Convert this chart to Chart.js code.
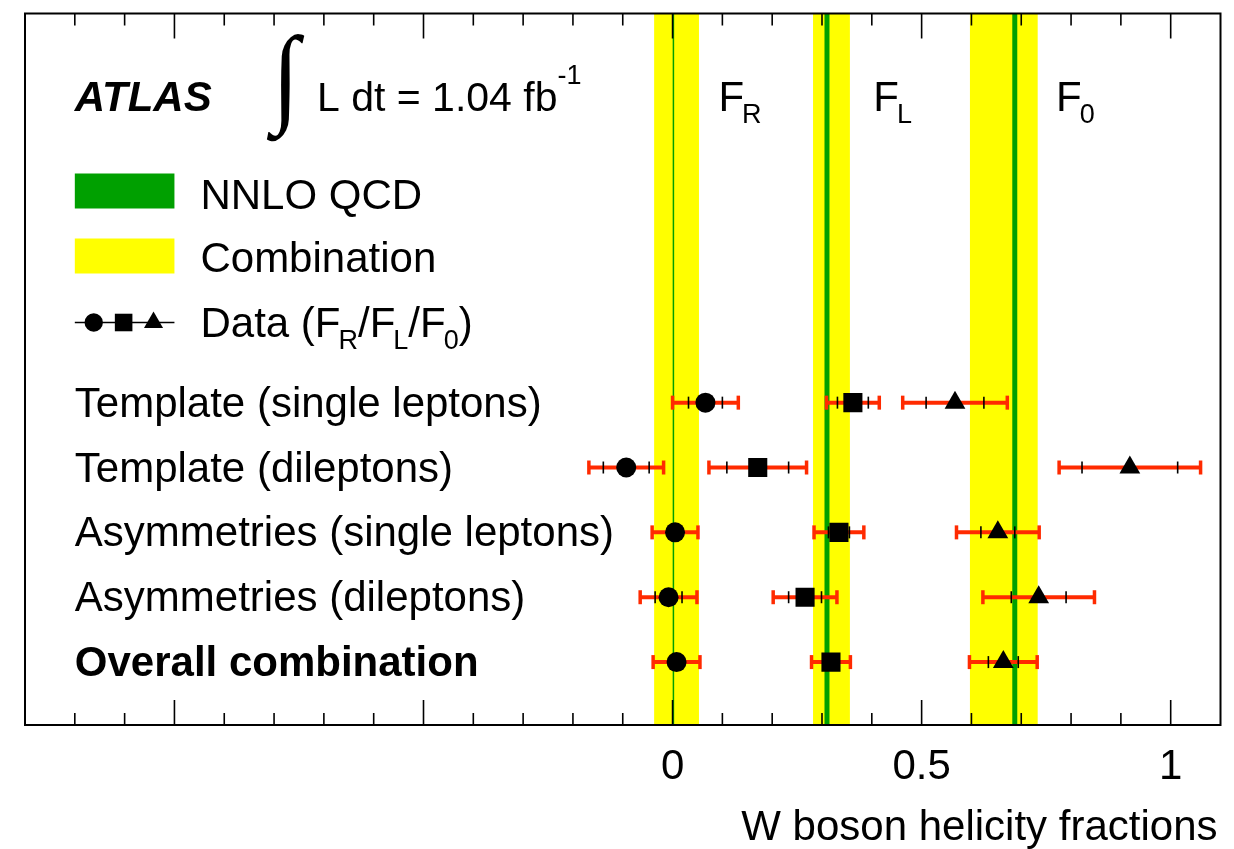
<!DOCTYPE html>
<html>
<head>
<meta charset="utf-8">
<script src="https://cdn.jsdelivr.net/npm/chart.js@4.4.0/dist/chart.umd.min.js"></script>
<style>
  html, body { margin: 0; padding: 0; background: #fff; }
  #wrap { width: 1234px; height: 849px; }
</style>
</head>
<body>
<div id="wrap"><canvas id="c"></canvas></div>
<script>
const FONT = '"Liberation Sans", Arial, sans-serif'
const RED = '#ff2a00'
const YELLOW = '#ffff00'
const GREEN = '#00a000'

// rows, top to bottom
const rows = ['Template (single leptons)', 'Template (dileptons)', 'Asymmetries (single leptons)', 'Asymmetries (dileptons)', 'Overall combination']
const rowPos = [5, 4, 3, 2, 1]

// measurements: value, stat error, total error
const fR = [0.066, -0.093, 0.005, -0.008, 0.008]
const fRStat = [0.034, 0.046, 0.010, 0.027, 0.010]
const fRTot = [0.066, 0.075, 0.046, 0.057, 0.047]

const fL = [0.362, 0.171, 0.334, 0.266, 0.318]
const fLStat = [0.031, 0.062, 0.021, 0.033, 0.015]
const fLTot = [0.053, 0.098, 0.050, 0.064, 0.039]

const f0 = [0.567, 0.918, 0.653, 0.735, 0.664]
const f0Stat = [0.058, 0.096, 0.034, 0.055, 0.030]
const f0Tot = [0.105, 0.142, 0.083, 0.112, 0.068]

// combination band (F_R, F_L, F_0)
const comboVal = [0.008, 0.319, 0.665]
const comboErr = [0.045, 0.037, 0.068]

// NNLO QCD prediction (F_R, F_L, F_0)
const nnloVal = [0.0017, 0.310, 0.687]
const nnloErr = [0.0015, 0.005, 0.005]

// band name labels
const bandNames = ['R', 'L', '0']
const bandLabelX = [0.092, 0.403, 0.770]

// x axis
const tickValues = [0, 0.5, 1]
const tickLabels = ['0', '0.5', '1']
const majorTicks = [-1, -0.5, 0, 0.5, 1]
const minorTicks = [-1.2, -1.1, -0.9, -0.8, -0.7, -0.6, -0.4, -0.3, -0.2, -0.1, 0.1, 0.2, 0.3, 0.4, 0.6, 0.7, 0.8, 0.9]

const families = [
  { val: fR, stat: fRStat, tot: fRTot, style: 'circle', r: 10 },
  { val: fL, stat: fLStat, tot: fLTot, style: 'rect', r: 13.5 },
  { val: f0, stat: f0Stat, tot: f0Tot, style: 'triangle', r: 12 }
]

const line = (ctx, x1, y1, x2, y2) => {
  ctx.beginPath()
  ctx.moveTo(x1, y1)
  ctx.lineTo(x2, y2)
  ctx.stroke()
}

const txt = (ctx, s, x, y, font, align) => {
  ctx.font = font
  ctx.textAlign = align || 'left'
  ctx.fillText(s, x, y)
  return ctx.measureText(s).width
}

// parts starting with '_' are subscripts
const rich = (ctx, parts, x, y) => {
  let cx = x
  parts.forEach(p => {
    if (p[0] === '_') {
      cx += txt(ctx, p.slice(1), cx - 2, y + 12, `27px ${FONT}`) - 2
    } else {
      cx += txt(ctx, p, cx, y, `42px ${FONT}`)
    }
  })
}

const decor = {
  id: 'decor',
  beforeDatasetsDraw(chart) {
    const { ctx, chartArea: a, scales: { x, y } } = chart
    ctx.save()

    ctx.fillStyle = YELLOW
    comboVal.forEach((v, i) => {
      const l = x.getPixelForValue(v - comboErr[i])
      const r = x.getPixelForValue(v + comboErr[i])
      ctx.fillRect(l, a.top, r - l, a.bottom - a.top)
    })

    ctx.fillStyle = GREEN
    nnloVal.forEach((v, i) => {
      const l = x.getPixelForValue(v - nnloErr[i])
      const r = x.getPixelForValue(v + nnloErr[i])
      ctx.fillRect(l, a.top, r - l, a.bottom - a.top)
    })

    // frame and inner ticks
    ctx.strokeStyle = '#000'
    ctx.lineWidth = 2
    ctx.strokeRect(a.left, a.top, a.right - a.left, a.bottom - a.top)
    ctx.lineWidth = 1.6
    const tick = (v, len) => {
      const X = x.getPixelForValue(v)
      line(ctx, X, a.bottom, X, a.bottom - len)
      line(ctx, X, a.top, X, a.top + len)
    }
    majorTicks.forEach(v => tick(v, 25))
    minorTicks.forEach(v => tick(v, 12))

    // error bars
    families.forEach(f => {
      f.val.forEach((v, i) => {
        const Y = y.getPixelForValue(rowPos[i])
        const l = x.getPixelForValue(v - f.tot[i])
        const r = x.getPixelForValue(v + f.tot[i])
        ctx.strokeStyle = RED
        ctx.lineWidth = 4
        line(ctx, l, Y, r, Y)
        ctx.lineWidth = 3.5
        line(ctx, l, Y - 7, l, Y + 7)
        line(ctx, r, Y - 7, r, Y + 7)
        ctx.strokeStyle = '#000'
        ctx.lineWidth = 1.6
        const sl = x.getPixelForValue(v - f.stat[i])
        const sr = x.getPixelForValue(v + f.stat[i])
        line(ctx, sl, Y - 6, sl, Y + 6)
        line(ctx, sr, Y - 6, sr, Y + 6)
      })
    })
    ctx.restore()
  },
  afterDraw(chart) {
    const { ctx, chartArea: a, scales: { x, y } } = chart
    ctx.save()
    ctx.fillStyle = '#000'
    ctx.textBaseline = 'alphabetic'
    const left = x.getPixelForValue(-1.2)

    // x tick labels and title
    tickValues.forEach((v, i) => txt(ctx, tickLabels[i], x.getPixelForValue(v), a.bottom + 54, `42px ${FONT}`, 'center'))
    txt(ctx, 'W boson helicity fractions', a.right - 3, a.bottom + 115, `42px ${FONT}`, 'right')

    // header
    txt(ctx, 'ATLAS', left, a.top + 97, `italic bold 42px ${FONT}`)
    ctx.save()
    ctx.translate(272, a.top + 98)
    ctx.scale(0.95, 1.05)
    txt(ctx, '\u222B', 0, 0, `104px "Liberation Serif"`)
    ctx.restore()
    const w = txt(ctx, 'L dt = 1.04 fb', 317, a.top + 97, `41px ${FONT}`)
    txt(ctx, '-1', 317 + w, a.top + 70, `27px ${FONT}`)

    // band names
    bandLabelX.forEach((v, i) => rich(ctx, ['F', '_' + bandNames[i]], x.getPixelForValue(v), a.top + 97))

    // legend
    const boxR = x.getPixelForValue(-1.0)
    ctx.fillStyle = GREEN
    ctx.fillRect(left, a.top + 160, boxR - left, 35)
    ctx.fillStyle = YELLOW
    ctx.fillRect(left, a.top + 225, boxR - left, 35)
    ctx.fillStyle = '#000'
    const tx = boxR + 26
    txt(ctx, 'NNLO QCD', tx, a.top + 195, `42px ${FONT}`)
    txt(ctx, 'Combination', tx, a.top + 258, `42px ${FONT}`)
    rich(ctx, ['Data (F', '_R', '/F', '_L', '/F', '_0', ')'], tx, a.top + 323)
    const ly = a.top + 309
    ctx.strokeStyle = '#000'
    ctx.lineWidth = 1.5
    line(ctx, left, ly, boxR, ly)
    const lw = boxR - left
    families.forEach((f, i) => {
      Chart.helpers.drawPoint(ctx, { pointStyle: f.style, radius: f.r * 0.92, borderWidth: 0, rotation: 0 }, left + lw * (0.19 + i * 0.3), ly)
    })

    // row labels
    rows.forEach((s, i) => {
      const bold = i === rows.length - 1 ? 'bold ' : ''
      txt(ctx, s, left, y.getPixelForValue(rowPos[i]) + 14, `${bold}42px ${FONT}`)
    })
    ctx.restore()
  }
}

new Chart(document.getElementById('c'), {
  type: 'scatter',
  data: {
    datasets: families.map(f => ({
      data: f.val.map((v, i) => ({ x: v, y: rowPos[i] })),
      pointStyle: f.style,
      pointRadius: f.r,
      backgroundColor: '#000',
      borderColor: '#000',
      borderWidth: 0
    }))
  },
  options: {
    responsive: true,
    maintainAspectRatio: false,
    animation: false,
    layout: { padding: { left: 25, right: 6, top: 10, bottom: 124 } },
    plugins: { legend: { display: false }, tooltip: { enabled: false } },
    scales: {
      x: { type: 'linear', min: -1.3, max: 1.1, display: false },
      y: { type: 'linear', min: 0.03, max: 11, display: false }
    }
  },
  plugins: [decor]
})
</script>
</body>
</html>
